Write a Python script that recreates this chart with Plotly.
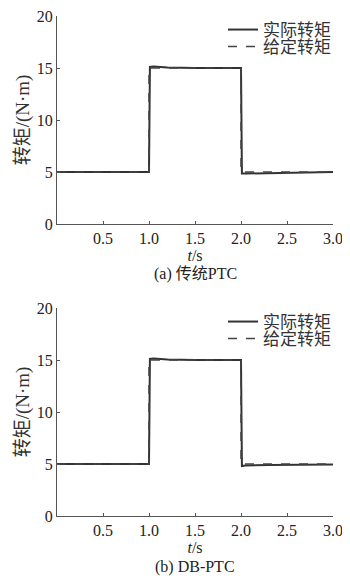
import plotly.graph_objects as go

# Data
t_given = [0.0, 1.0, 1.0, 2.0, 2.0, 3.0]
torque_given = [5.0, 5.0, 15.0, 15.0, 5.0, 5.0]

t_actual_a = [0.0, 0.5, 1.0, 1.01, 1.05, 1.2, 1.5, 2.0, 2.01, 2.05, 2.3, 3.0]
torque_actual_a = [5.0, 5.0, 5.0, 15.1, 15.15, 15.05, 15.0, 15.0, 4.85, 4.85, 4.9, 5.0]

t_actual_b = [0.0, 0.5, 1.0, 1.01, 1.05, 1.2, 1.5, 2.0, 2.01, 2.05, 2.3, 3.0]
torque_actual_b = [5.0, 5.0, 5.0, 15.1, 15.15, 15.05, 15.0, 15.0, 4.8, 4.85, 4.9, 4.95]

x_ticks = [0.5, 1.0, 1.5, 2.0, 2.5, 3.0]
x_ticktext = ["0.5", "1.0", "1.5", "2.0", "2.5", "3.0"]
y_ticks = [0, 5, 10, 15, 20]

legend_names = ["实际转矩", "给定转矩"]
captions = ["(a) 传统PTC", "(b) DB-PTC"]
x_title = "<i>t</i>/s"
y_title = "转矩/(N·m)"

# page body has an 8px margin: figure sits at (8, 8) in the 350x578 window
OFF = 8
W, H = 350 - OFF, 578 - OFF
FONT = "Liberation Serif, Noto Sans CJK SC, serif"
LINE = "#333333"
AX = "#555555"

def px_x(p):
    return (p - OFF) / W

def px_y(p):
    return 1 - (p - OFF) / H

fig = go.Figure()

panels = [
    (t_actual_a, torque_actual_a, "x", "y", ("legend", "legend2")),
    (t_actual_b, torque_actual_b, "x2", "y2", ("legend3", "legend4")),
]
for ta, va, xa, ya, lg in panels:
    fig.add_trace(go.Scatter(x=ta, y=va, mode="lines", name=legend_names[0], showlegend=True,
                             line=dict(color=LINE, width=2), xaxis=xa, yaxis=ya, legend=lg[0]))
    fig.add_trace(go.Scatter(x=t_given, y=torque_given, mode="lines", name=legend_names[1],
                             showlegend=True,
                             line=dict(color="#444444", width=1.5, dash="dash"),
                             xaxis=xa, yaxis=ya, legend=lg[1]))

xdom = [px_x(57), px_x(333)]
ydom_a = [px_y(224), px_y(16)]
ydom_b = [px_y(516), px_y(308)]

def xaxis(anchor):
    return dict(domain=xdom, range=[0, 3], tickvals=x_ticks, ticktext=x_ticktext,
                ticks="inside", ticklen=3, tickcolor=AX, showline=True, linecolor=AX,
                linewidth=1, showgrid=False, zeroline=False, anchor=anchor, automargin=False,
                ticklabeloverflow="allow",
                tickfont=dict(size=16, color="#222"),
                title=dict(text=x_title, font=dict(size=16, color="#222"), standoff=0))

def yaxis(dom, anchor):
    return dict(domain=dom, range=[0, 20], tickvals=y_ticks,
                ticks="inside", ticklen=3, tickcolor=AX, showline=True, linecolor=AX,
                linewidth=1, showgrid=False, zeroline=False, anchor=anchor, automargin=False,
                ticklabeloverflow="allow",
                tickfont=dict(size=16, color="#222"),
                title=dict(text=y_title, font=dict(size=19, color="#333"), standoff=2))

legend_common = dict(font=dict(family=FONT, size=17, color="#333"), bgcolor="rgba(0,0,0,0)",
                     xanchor="right", yanchor="middle", itemwidth=30)

fig.update_layout(
    width=W, height=H, margin=dict(l=0, r=0, t=0, b=0, autoexpand=False),
    paper_bgcolor="white", plot_bgcolor="white", showlegend=True,
    font=dict(family=FONT, color="#222"),
    xaxis=xaxis("y"), yaxis=yaxis(ydom_a, "x"),
    xaxis2=xaxis("y2"), yaxis2=yaxis(ydom_b, "x2"),
    legend=dict(x=px_x(336), y=px_y(30), **legend_common),
    legend2=dict(x=px_x(336), y=px_y(47), **legend_common),
    legend3=dict(x=px_x(336), y=px_y(322), **legend_common),
    legend4=dict(x=px_x(336), y=px_y(339), **legend_common),
    annotations=[
        dict(text=captions[0], x=(xdom[0] + xdom[1]) / 2, y=px_y(274), xref="paper", yref="paper",
             showarrow=False, font=dict(size=16, color="#222"), yanchor="middle"),
        dict(text=captions[1], x=(xdom[0] + xdom[1]) / 2, y=px_y(567), xref="paper", yref="paper",
             showarrow=False, font=dict(size=16, color="#222"), yanchor="middle"),
    ],
)

fig.write_html("out.html")
